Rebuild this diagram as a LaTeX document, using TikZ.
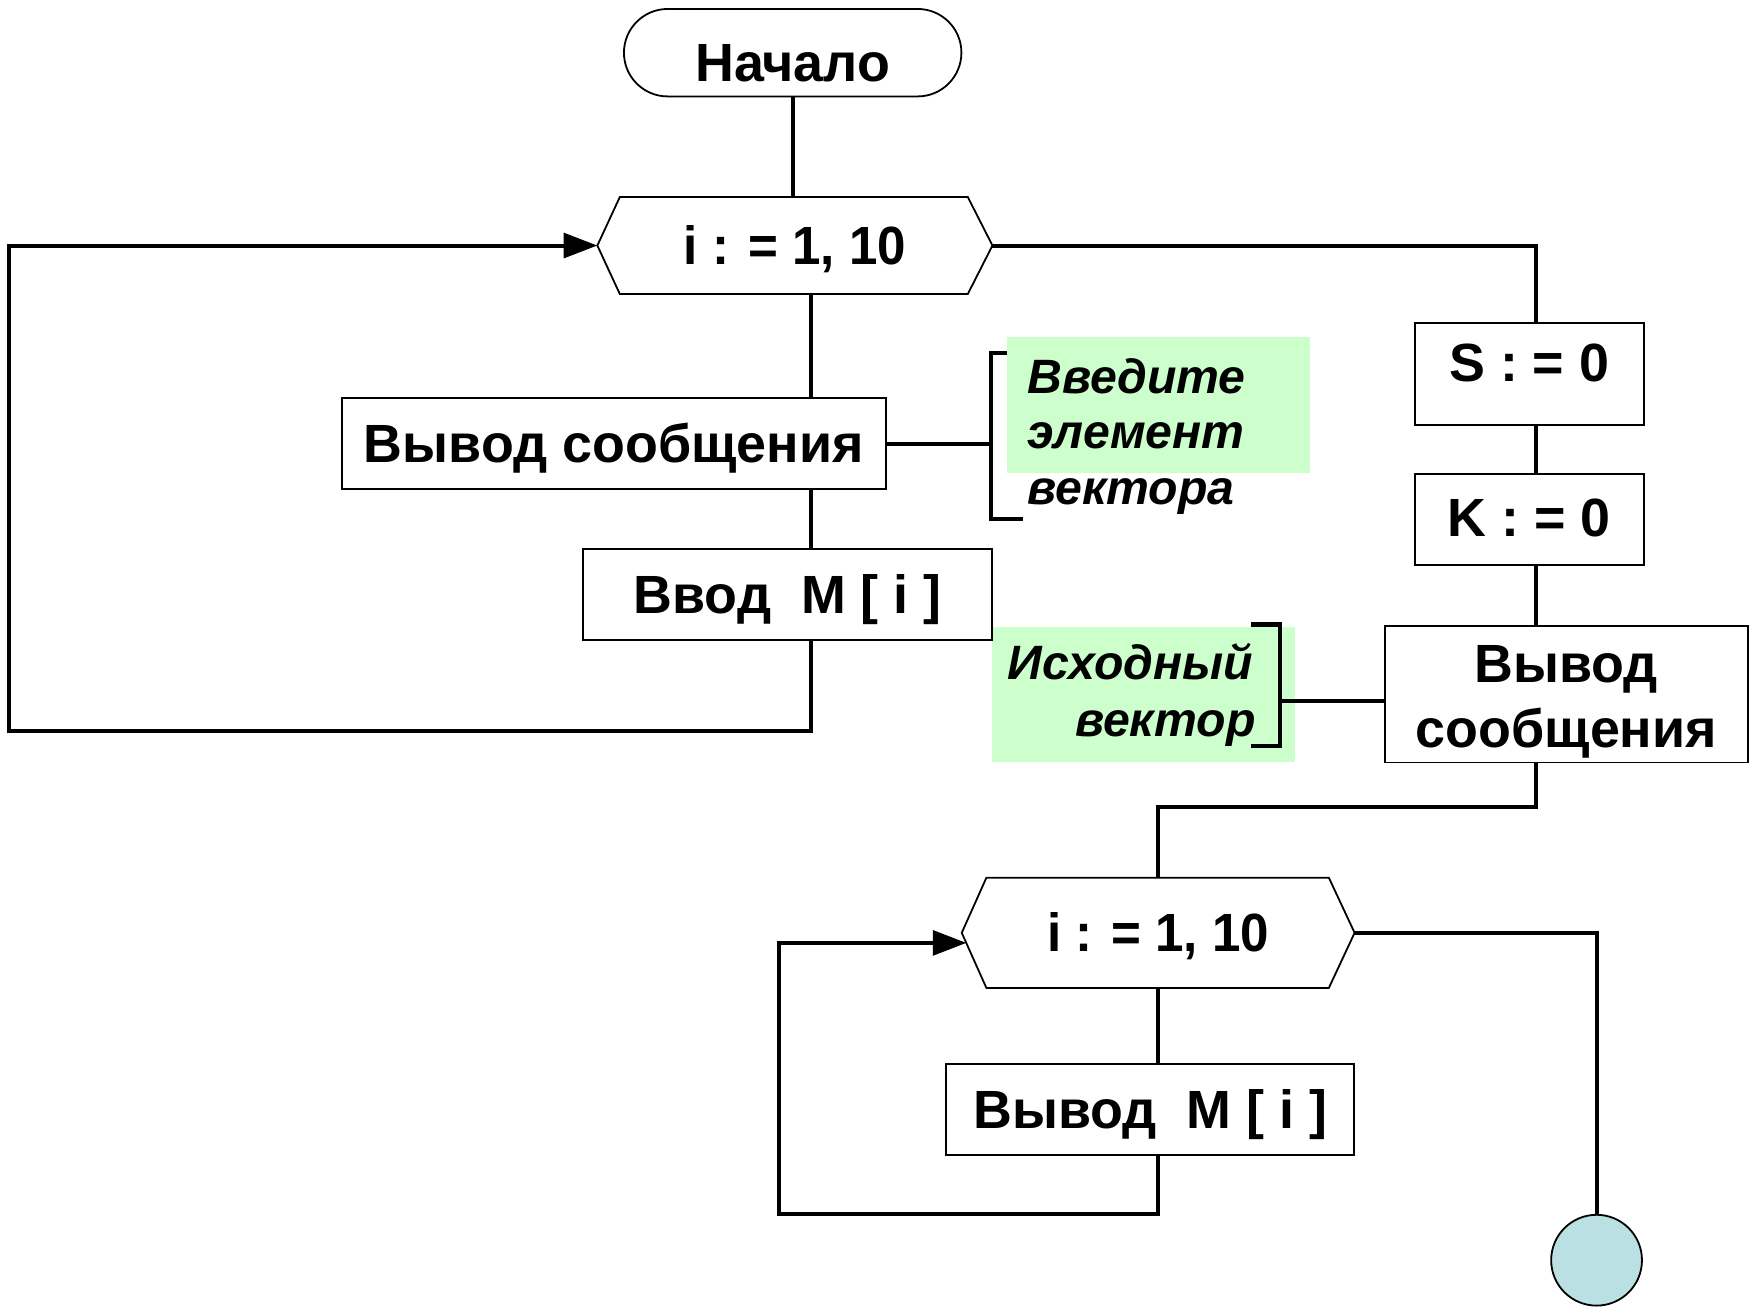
\documentclass[tikz,border=0pt]{standalone}
\usepackage{fontspec}
\setmainfont{Liberation Sans}
\usetikzlibrary{calc,arrows.meta,shapes.misc}
\definecolor{notegreen}{RGB}{204,255,204}
\definecolor{endblue}{RGB}{187,224,227}
\begin{document}
\begin{tikzpicture}[x=1pt,y=-1pt,
  boxtxt/.style={font=\fontsize{48}{58}\selectfont\bfseries},
  box/.style={draw, line width=1.6pt, inner sep=0pt, boxtxt, align=center, text height=34pt, text depth=0pt},
  hexbox/.style={inner sep=0pt, boxtxt, text height=34pt, text depth=0pt},
  hexline/.style={line width=1.6pt, line join=miter},
  conn/.style={line width=3.6pt, line join=miter},
  arr/.style={-{Triangle[length=30pt,width=22pt]}},
  note/.style={font=\fontsize{43}{50}\selectfont\bfseries\itshape, inner sep=0pt},
  bracket/.style={line width=3.6pt}
]
\useasboundingbox (0,0) rectangle (1568,1166);

% green backgrounds of notes
\fill[notegreen] (898,301) rectangle (1168,422);
\fill[notegreen] (885,559) rectangle (1155,680);

% ---- nodes
\node[draw, line width=1.6pt, rounded rectangle, minimum width=301pt, minimum height=78pt,
      boxtxt, text height=52pt, text depth=0pt, inner sep=0pt] (start) at (707,47) {Начало};

\node[hexbox, minimum width=352pt, minimum height=86pt] (h1) at (709,219) {\scalebox{0.95}[1]{i : = 1, 10}};
\draw[hexline] (h1.west) -- ($(h1.north west)+(20,0)$) -- ($(h1.north east)+(-22,0)$) -- (h1.east)
   -- ($(h1.south east)+(-22,0)$) -- ($(h1.south west)+(20,0)$) -- cycle;

\node[box, minimum width=485pt, minimum height=81pt] (b1) at (547.5,395.5) {Вывод сообщения};
\node[box, minimum width=365pt, minimum height=81pt] (b2) at (702.5,530.5) {Ввод\ \ М [ i ]};

\node[box, minimum width=204pt, minimum height=91pt, text height=14pt] (s) at (1364,333.5) {S : = 0};
\node[box, minimum width=204pt, minimum height=81pt, text height=30pt] (k) at (1364,463.5) {K : = 0};
\node[box, minimum width=324pt, minimum height=122pt, text height=96pt, text depth=0pt] (b4) at (1397,619) {Вывод\\сообщения};

\node[hexbox, minimum width=350pt, minimum height=98pt] (h2) at (1033,832) {\scalebox{0.95}[1]{i : = 1, 10}};
\draw[hexline] (h2.west) -- ($(h2.north west)+(22,0)$) -- ($(h2.north east)+(-23,0)$) -- (h2.east)
   -- ($(h2.south east)+(-23,0)$) -- ($(h2.south west)+(22,0)$) -- cycle;

\node[box, minimum width=364pt, minimum height=81pt] (b3) at (1026,989.5) {Вывод\ \ М [ i ]};

\node[circle, draw, line width=1.6pt, fill=endblue, minimum size=81pt, inner sep=0pt] (end) at (1424,1124) {};

% note texts
\node[note, anchor=base west] (n1a) at (916,351) {Введите};
\node[note, anchor=base west] (n1b) at (916,400) {элемент};
\node[note, anchor=base west] (n1c) at (916,450) {вектора};
\node[note, anchor=base east] (n2a) at (1118,606) {Исходный};
\node[note, anchor=base east] (n2b) at (1120,657) {вектор};

% ---- helper coordinates
\coordinate (c1) at (723,0);
\coordinate (c2) at (1370,0);
\coordinate (l1a) at (723,652);
\coordinate (l1b) at (8,652);
\coordinate (j2) at (1033,720);
\coordinate (l2a) at (1033,1083);
\coordinate (l2b) at (695,1083);
\coordinate (h2in) at (862,841);
\coordinate (br1) at (884,396);
\coordinate (br2) at (1142,625);

% ---- connectors
\draw[conn] (start.south) -- (start.south |- h1.north);
\draw[conn] (h1.south -| c1) -- (b1.north -| c1);
\draw[conn] (b1.south -| c1) -- (b2.north -| c1);
\draw[conn, arr] (b2.south -| c1) -- (l1a) -- (l1b) |- (h1.west);

\draw[conn] (h1.east) -| (s.north -| c2);
\draw[conn] (s.south -| c2) -- (k.north -| c2);
\draw[conn] (k.south -| c2) -- (b4.north -| c2);
\draw[conn] (b4.south -| c2) |- (j2) -- (h2.north);

\draw[conn] (h2.south) -- (b3.north -| h2.south);
\draw[conn, arr] (b3.south -| h2.south) -- (l2a) -- (l2b) |- (h2in);
\draw[conn] (h2.east) -| (end.north);

% note brackets
\draw[conn] (b1.east |- br1) -- (br1);
\draw[bracket] (898,315) -- (884,315) -- (884,463) -- (912,463);
\draw[conn] (br2 -| b4.west) -- (br2);
\draw[bracket] (1116,557) -- (1142,557) -- (1142,665) -- (1116,665);
\end{tikzpicture}
\end{document}
